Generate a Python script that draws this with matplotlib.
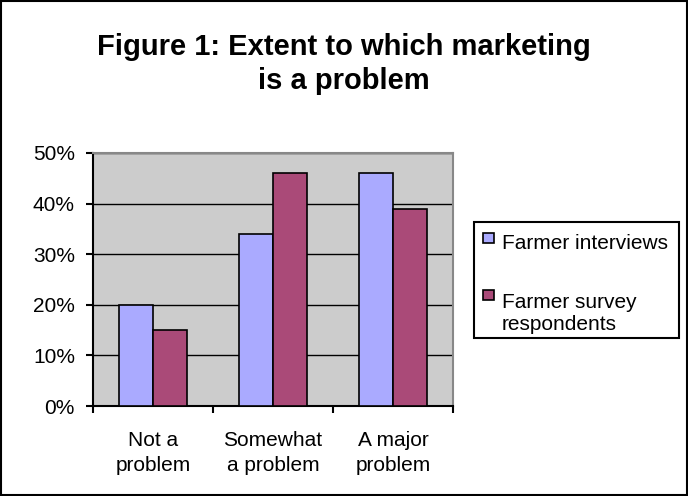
import numpy as np
import matplotlib.pyplot as plt
from matplotlib.patches import Rectangle

categories = ['Not a\nproblem', 'Somewhat\na problem', 'A major\nproblem']
interviews = [20, 34, 46]
survey = [15, 46, 39]
series_names = ['Farmer interviews', 'Farmer survey\nrespondents']
colors = ['#aaaaff', '#aa4a78']

plt.rcParams['font.family'] = ['Liberation Sans', 'DejaVu Sans']

W, H = 688, 496
fig = plt.figure(figsize=(W / 100, H / 100), dpi=100)


def px(x, y):
    # pixel coords (from top-left) -> figure fraction
    return x / W, 1 - y / H


fig.patches.append(Rectangle((0.002, 0.003), 0.996, 0.994, transform=fig.transFigure,
                             fill=False, edgecolor='black', linewidth=1.5))
ax = fig.add_axes([93 / W, 1 - 406 / H, 360 / W, 253 / H])
ax.set_facecolor('#cccccc')

x = np.arange(len(categories))
w = 0.28
ax.bar(x - w / 2, interviews, w, color=colors[0], edgecolor='black', linewidth=1.2, zorder=3)
ax.bar(x + w / 2, survey, w, color=colors[1], edgecolor='black', linewidth=1.2, zorder=3)

ax.set_xlim(-0.5, 2.5)
ax.set_ylim(0, 50)
ax.set_yticks(range(0, 51, 10))
ax.set_yticklabels([f'{v}%' for v in range(0, 51, 10)], fontsize=15)
ax.yaxis.grid(True, color='black', linewidth=1)
ax.set_axisbelow(True)

ax.set_xticks([-0.5, 0.5, 1.5, 2.5])
ax.set_xticklabels([])
ax.set_xticks(x, minor=True)
ax.set_xticklabels(categories, minor=True, fontsize=15, linespacing=1.4)
ax.tick_params(axis='x', which='minor', length=0, pad=18)
ax.tick_params(axis='both', which='major', direction='out', length=5, width=1.5)
ax.tick_params(axis='y', pad=8)

for s in ['top', 'right']:
    ax.spines[s].set_color('#888888')
    ax.spines[s].set_linewidth(1.5)
for s in ['left', 'bottom']:
    ax.spines[s].set_linewidth(1.5)

fig.text(0.5, 1 - 64 / H, 'Figure 1: Extent to which marketing\nis a problem', ha='center',
         va='center', fontsize=21, fontweight='bold', linespacing=1.25)

# legend box drawn by hand so the swatch sits beside the first line of each label
fig.patches.append(Rectangle(px(474, 338), 205 / W, 116 / H, transform=fig.transFigure,
                             fill=False, edgecolor='black', linewidth=1.5))
for i, (name, c) in enumerate(zip(series_names, colors)):
    top = 233 + i * 57
    fig.patches.append(Rectangle(px(483, top + 10), 11 / W, 10 / H, transform=fig.transFigure,
                                 facecolor=c, edgecolor='black', linewidth=1.2))
    tx, ty = px(502, top + 1 + i * 2)
    fig.text(tx, ty, name, ha='left', va='top', fontsize=15, linespacing=1.2)

fig.savefig('out.png', dpi=100)
